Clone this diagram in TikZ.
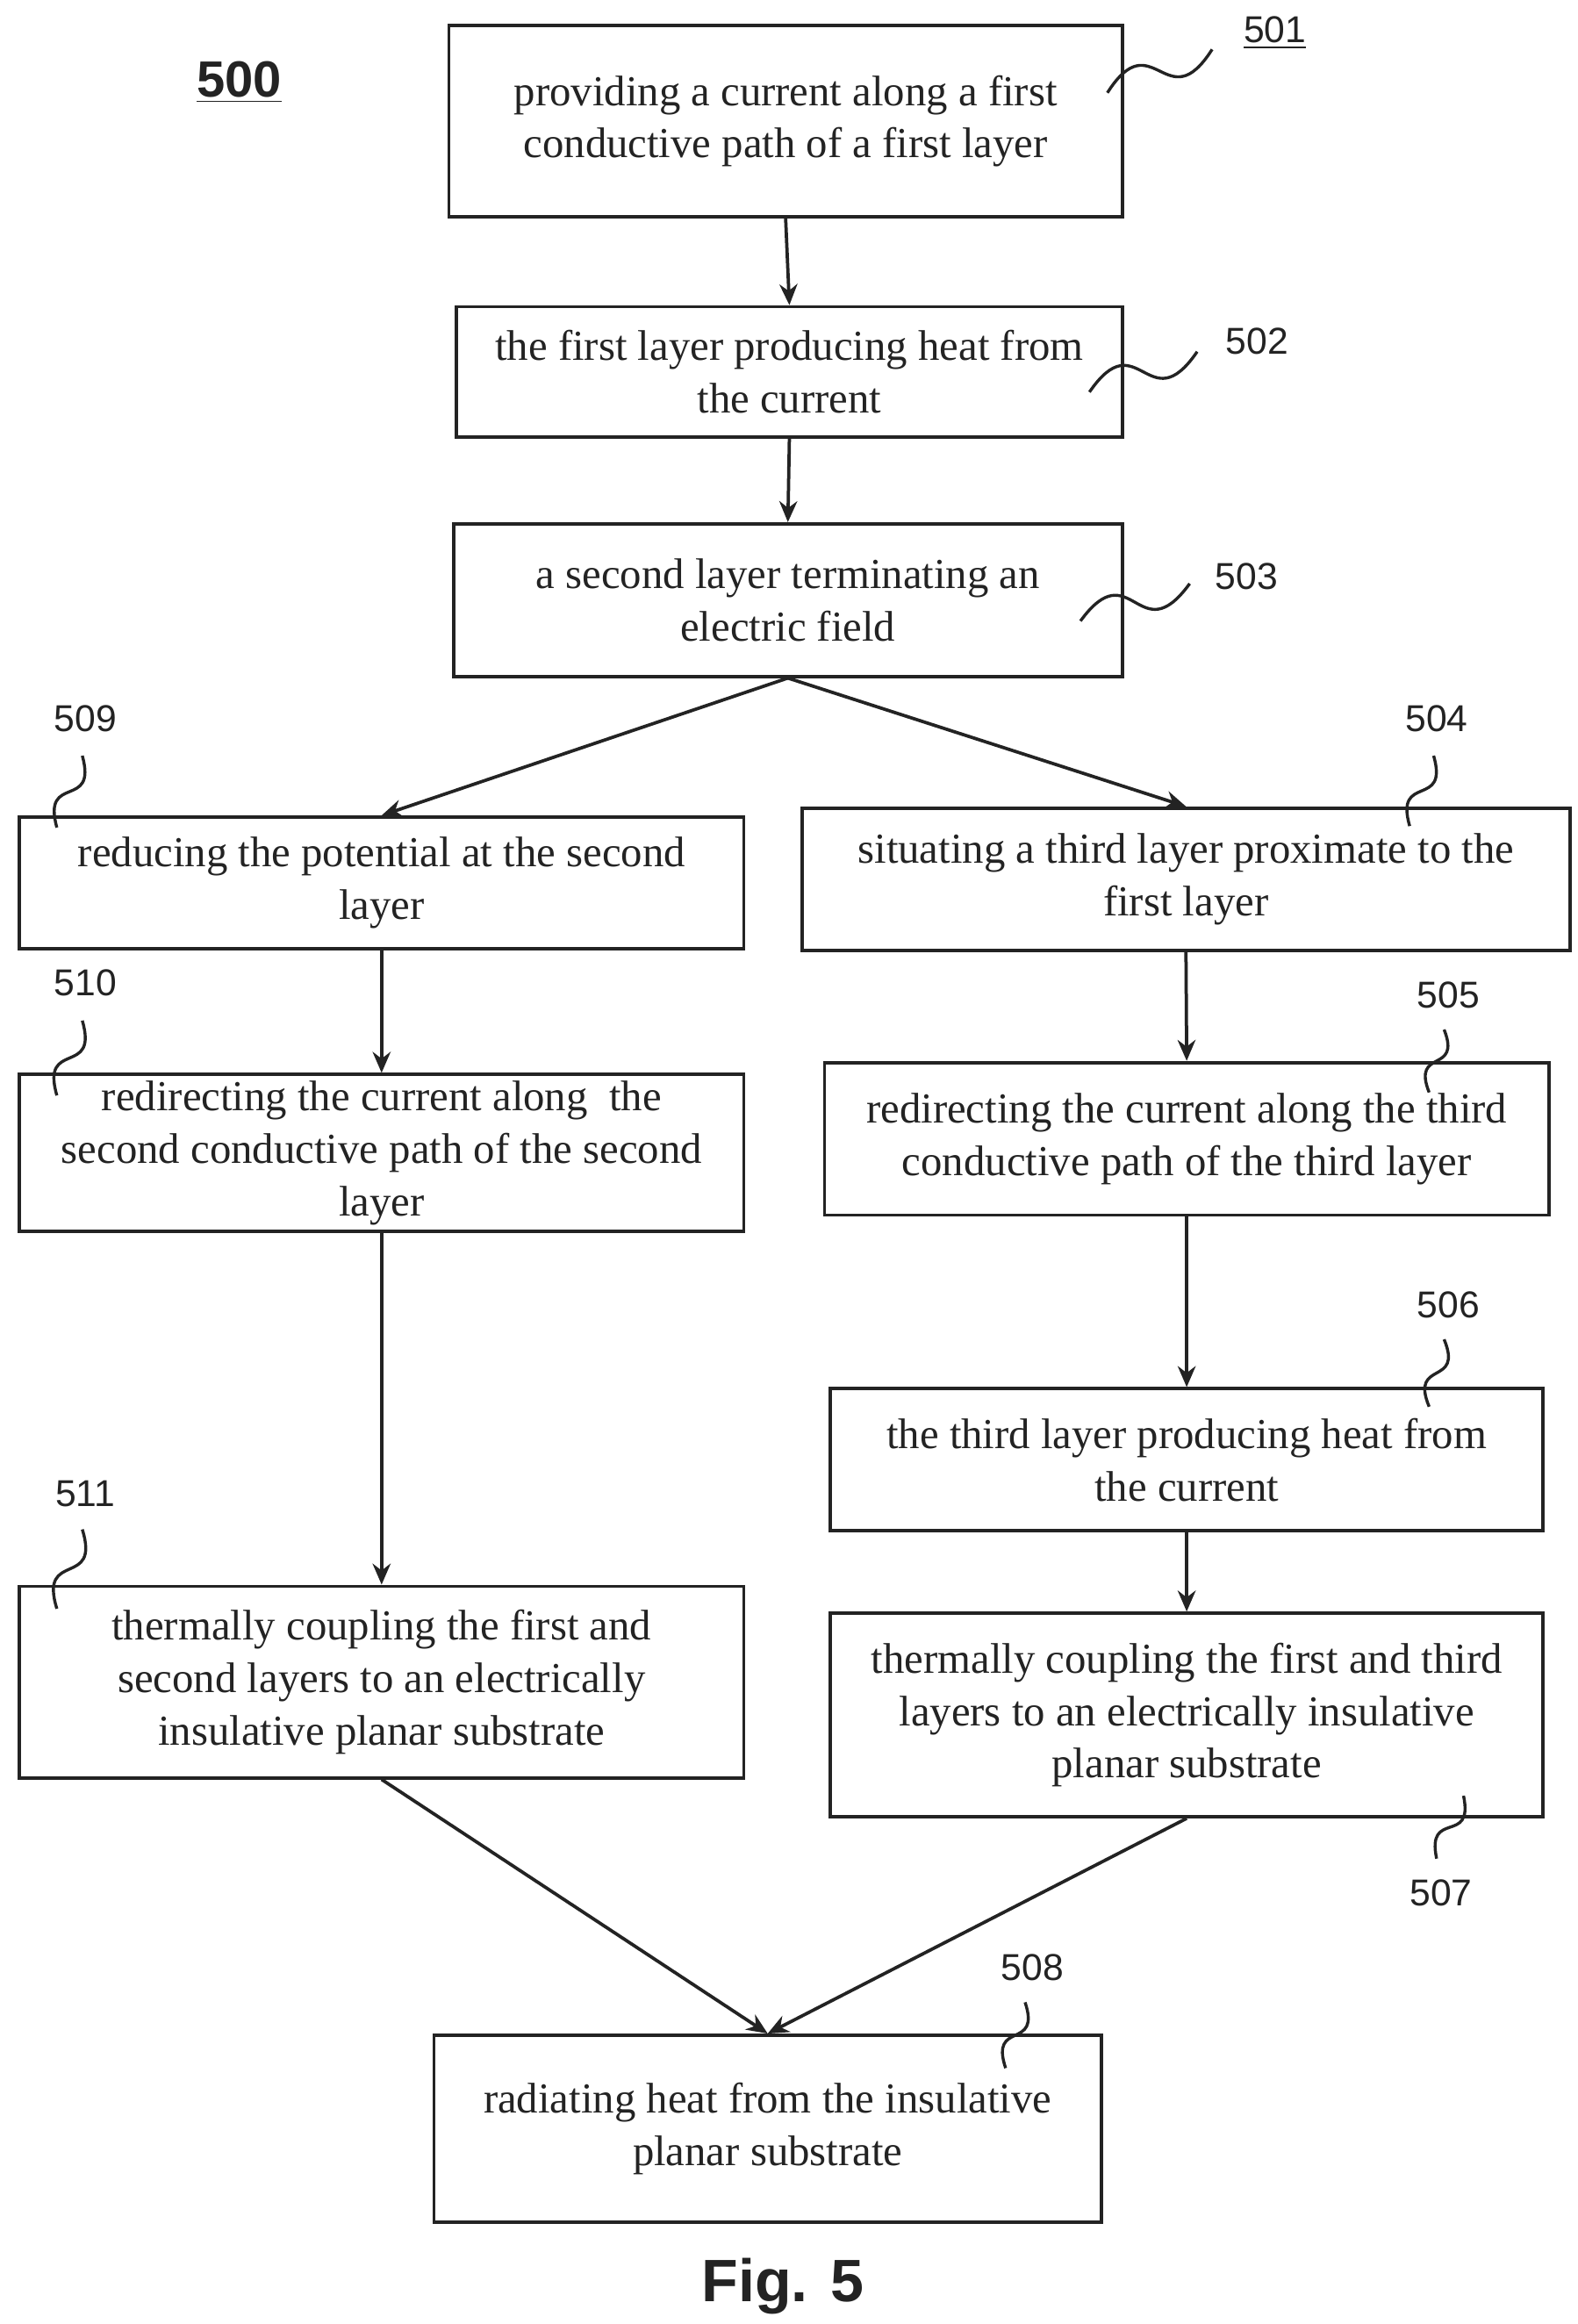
\documentclass[tikz,border=0pt]{standalone}
\usepackage{fontspec}
\setmainfont{Liberation Serif}
\newfontfamily\numf{Liberation Sans}
\usetikzlibrary{calc,arrows.meta}
\definecolor{ink}{RGB}{35,35,35}
\begin{document}
\begin{tikzpicture}[x=0.5pt,y=-0.5pt,
  bx/.style={draw=ink,line width=1.1pt,align=center,inner sep=0pt,font=\fontsize{14.3}{17.5}\selectfont,text=ink},
  ar/.style={draw=ink,line width=1.1pt,-{Stealth[length=7pt,width=6pt]}},
  lb/.style={font=\numf\fontsize{12.5}{14}\selectfont,text=ink},
  sq/.style={draw=ink,line width=1pt}]
\useasboundingbox (0,0) rectangle (1054,1553);
\newcommand{\squig}[2]{\draw[sq] (#1) .. controls ($(#1)!0.75!35:(#2)$) and ($(#2)!0.75!35:(#1)$) .. (#2);}
\node[bx,minimum width=225pt,minimum height=64pt] (n501) at (525,81) {providing a current along a first\\conductive path of a first layer};
\node[bx,minimum width=222.5pt,minimum height=43.5pt] (n502) at (527.5,248.5) {the first layer producing heat from\\the current};
\node[bx,minimum width=223.5pt,minimum height=51pt] (n503) at (526.5,401) {a second layer terminating an\\electric field};
\node[bx,minimum width=242pt,minimum height=44pt] (n509) at (255,590) {reducing the potential at the second\\layer};
\node[bx,minimum width=256.5pt,minimum height=47.5pt] (n504) at (792.5,587.5) {situating a third layer proximate to the\\first layer};
\node[bx,minimum width=242pt,minimum height=52.5pt] (n510) at (255,770.5) {redirecting the current along \ the\\second conductive path of the second\\layer};
\node[bx,minimum width=242pt,minimum height=51pt] (n505) at (793,761) {redirecting the current along the third\\conductive path of the third layer};
\node[bx,minimum width=238pt,minimum height=47.5pt] (n506) at (793,975.5) {the third layer producing heat from\\the current};
\node[bx,minimum width=242pt,minimum height=64pt] (n511) at (255,1124) {thermally coupling the first and\\second layers to an electrically\\insulative planar substrate};
\node[bx,minimum width=238pt,minimum height=68pt] (n507) at (793,1146) {thermally coupling the first and third\\layers to an electrically insulative\\planar substrate};
\node[bx,minimum width=223pt,minimum height=62.5pt] (n508) at (513,1422.5) {radiating heat from the insulative\\planar substrate};
\draw[ar] (n501.south) -- (n502.north);
\draw[ar] (n502.south) -- (n503.north);
\draw[ar] (n503.south) -- (n509.north);
\draw[ar] (n503.south) -- (n504.north);
\draw[ar] (n509.south) -- (n510.north);
\draw[ar] (n504.south) -- (n505.north);
\draw[ar] (n505.south) -- (n506.north);
\draw[ar] (n506.south) -- (n507.north);
\draw[ar] (n510.south) -- (n511.north);
\draw[ar] (n511.south) -- (n508.north);
\draw[ar] (n507.south) -- (n508.north);
\node[font=\numf\bfseries\fontsize{17}{20}\selectfont,text=ink] (t500) at (160,55) {\underline{500}};
\node[font=\numf\bfseries\fontsize{20}{24}\selectfont,text=ink] (fig) at (523,1528) {Fig. 5};
\node[lb] (l501) at (852,22) {\underline{501}};
\node[lb] (l502) at (840,228) {502};
\node[lb] (l503) at (833,385) {503};
\node[lb] (l509) at (57,480) {509};
\node[lb] (l504) at (960,480) {504};
\node[lb] (l510) at (57,657) {510};
\node[lb] (l505) at (968,665) {505};
\node[lb] (l506) at (968,872) {506};
\node[lb] (l511) at (57,998) {511};
\node[lb] (l507) at (963,1265) {507};
\node[lb] (l508) at (690,1315) {508};
\coordinate (a1) at (740,62); \coordinate (b1) at (810,33);
\coordinate (a2) at (728,262); \coordinate (b2) at (800,235);
\coordinate (a3) at (722,415); \coordinate (b3) at (795,390);
\coordinate (a9) at (38,553); \coordinate (b9) at (55,505);
\coordinate (a4) at (942,552); \coordinate (b4) at (958,505);
\coordinate (a10) at (38,732); \coordinate (b10) at (55,682);
\coordinate (a5) at (955,730); \coordinate (b5) at (965,688);
\coordinate (a6) at (955,940); \coordinate (b6) at (965,895);
\coordinate (a11) at (38,1075); \coordinate (b11) at (55,1022);
\coordinate (a7) at (978,1200); \coordinate (b7) at (960,1242);
\coordinate (a8) at (672,1382); \coordinate (b8) at (685,1338);
\squig{a1}{b1}\squig{a2}{b2}\squig{a3}{b3}\squig{a9}{b9}\squig{a4}{b4}
\squig{a10}{b10}\squig{a5}{b5}\squig{a6}{b6}\squig{a11}{b11}\squig{a7}{b7}\squig{a8}{b8}
\end{tikzpicture}
\end{document}
